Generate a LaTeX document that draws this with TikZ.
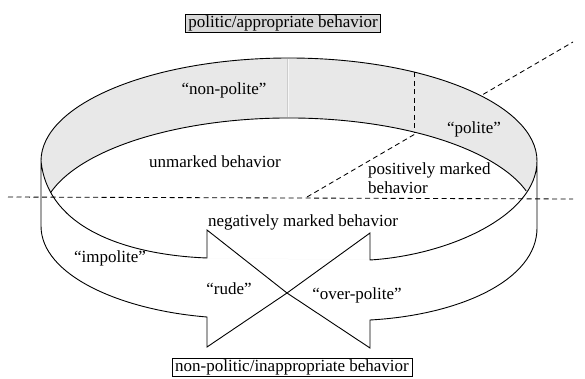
\documentclass[tikz,border=0pt]{standalone}
\usepackage{fontspec}
\setmainfont{Liberation Serif}
\usetikzlibrary{calc}
\begin{document}
\begin{tikzpicture}[x=1pt,y=-1pt,
  lbl/.style={font=\fontsize{17}{19}\selectfont, inner sep=0pt},
  edge/.style={black, line width=0.9pt, line join=miter},
  dashln/.style={black, line width=0.85pt, dash pattern=on 5pt off 3.5pt},
  bandfill/.style={fill=black!9},
  boxlbl/.style={lbl, draw=black, line width=0.6pt, inner xsep=3pt, inner ysep=1pt}]
\useasboundingbox (0,0) rectangle (585,379);
% key points
\coordinate (oc) at (289,161);
\coordinate (ic) at (289,221);
\coordinate (oL) at (41,161);
\coordinate (oR) at (537,161);
\coordinate (lvB) at (41,226);
\coordinate (rvB) at (537,228);
\coordinate (la1) at (207,258);
\coordinate (la2) at (207,230);
\coordinate (la3) at (207,347);
\coordinate (la4) at (207,317);
\coordinate (ra1) at (370,260);
\coordinate (ra2) at (370,233);
\coordinate (ra3) at (370,348);
\coordinate (ra4) at (370,320);
\coordinate (tip) at (287,293);
\coordinate (dS) at (307,197);
\coordinate (dE) at (573,42);
\coordinate (hS) at (8,197);
\coordinate (hE) at (573,199);
% diagonal dashed line (hidden behind the band)
\draw[dashln] (dS) -- (dE);
% gray band
\def\graypath{(oL) arc[start angle=180, end angle=360, x radius=248, y radius=103]
  .. controls (537,215) and (450,255) .. (ra1) -- (la1)
  .. controls (130,255) and (48,230) .. (oL) -- cycle}
\begin{scope}
  \clip \graypath;
  \fill[bandfill, even odd rule] \graypath (ic) ellipse[x radius=248, y radius=103];
\end{scope}
% seam on the band
\draw[black!20, line width=0.3pt, double=black!3, double distance=1pt] (288,59) -- (288,117);
% vertical dashed divider on the band
\draw[dashln] ($(oc)+(300.5:248 and 103)$) -- ($(ic)+(300.5:248 and 103)$);
% horizontal dashed line
\draw[dashln] (hS) -- (hE);
% outlines
\draw[edge] (oL) arc[start angle=180, end angle=360, x radius=248, y radius=103];
\draw[edge] ($(ic)+(196:248 and 103)$) arc[start angle=196, end angle=343, x radius=248, y radius=103];
\draw[edge] (oL) .. controls (48,230) and (130,255) .. (la1) -- (la2) -- (tip) -- (la3) -- (la4)
  .. controls (120,310) and (41,275) .. (lvB) -- (oL);
\draw[edge] (oR) .. controls (537,215) and (450,255) .. (ra1) -- (ra2) -- (tip) -- (ra3) -- (ra4)
  .. controls (460,315) and (537,280) .. (rvB) -- (oR);
% labels
\node[boxlbl, fill=black!15] (top) at (283,23.5) {politic/appropriate behavior};
\node[boxlbl, fill=white] (bot) at (292,367.5) {non-politic/inappropriate behavior};
\node[lbl] (np) at (224,90) {“non-polite”};
\node[lbl] (um) at (215,162) {unmarked behavior};
\node[lbl] (pol) at (474,129) {“polite”};
\node[lbl, align=left, anchor=west] (pm) at (368,178) {positively marked\\behavior};
\node[lbl] (nm) at (303,222) {negatively marked behavior};
\node[lbl] (imp) at (110,258) {“impolite”};
\node[lbl] (rude) at (229,289) {“rude”};
\node[lbl] (op) at (357,295) {“over-polite”};
\end{tikzpicture}
\end{document}
